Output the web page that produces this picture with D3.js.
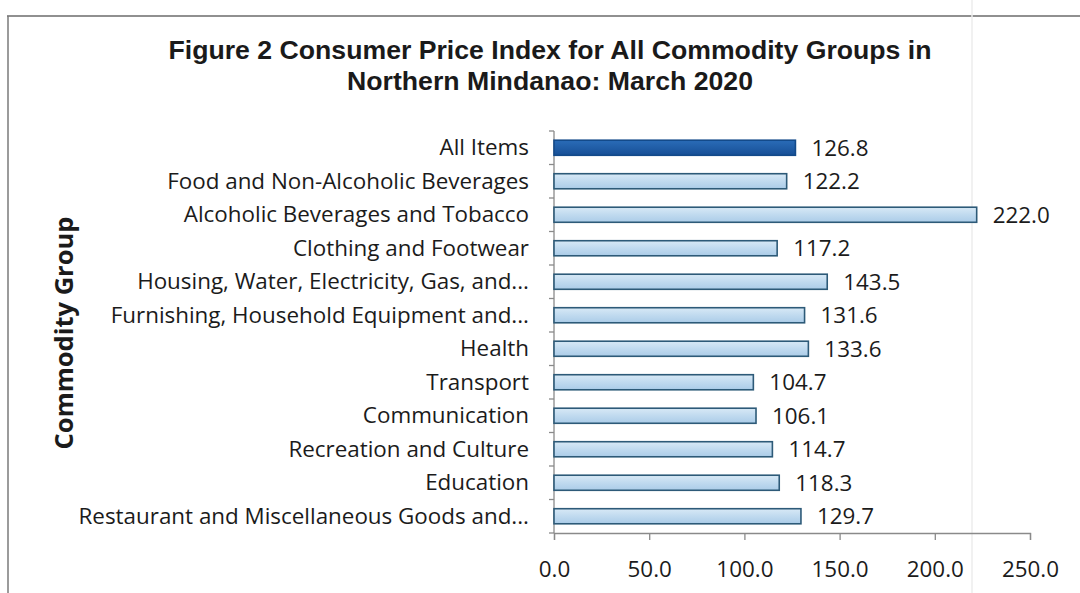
<!DOCTYPE html>
<html>
<head>
<meta charset="utf-8">
<script src="https://cdn.jsdelivr.net/npm/d3@7/dist/d3.min.js"></script>
<style>
  html, body { margin: 0; padding: 0; background: #fff; }
  svg { display: block; }
</style>
</head>
<body>
<script>
// Commodity groups, top to bottom
const categories = [
  "All Items",
  "Food and Non-Alcoholic Beverages",
  "Alcoholic Beverages and Tobacco",
  "Clothing and Footwear",
  "Housing, Water, Electricity, Gas, and...",
  "Furnishing, Household Equipment and...",
  "Health",
  "Transport",
  "Communication",
  "Recreation and Culture",
  "Education",
  "Restaurant and Miscellaneous Goods and..."
];
// CPI values, March 2020
const values = [126.8, 122.2, 222.0, 117.2, 143.5, 131.6, 133.6, 104.7, 106.1, 114.7, 118.3, 129.7];
const xTicks = [0, 50, 100, 150, 200, 250];
const titleLines = [
  "Figure 2 Consumer Price Index for All Commodity Groups in",
  "Northern Mindanao: March 2020"
];
const yTitle = "Commodity Group";

const W = 1080, H = 593;
const svg = d3.select("body").append("svg").attr("width", W).attr("height", H);
const labelFont = "'Open Sans', 'Noto Sans', sans-serif";
const labelSize = 22.4;
const ink = "#1b1b1b";

// gradients for bars
const defs = svg.append("defs");
const gLight = defs.append("linearGradient").attr("id", "gLight").attr("x1", 0).attr("y1", 0).attr("x2", 0).attr("y2", 1);
gLight.append("stop").attr("offset", "0%").attr("stop-color", "#d8e9f6");
gLight.append("stop").attr("offset", "50%").attr("stop-color", "#c0daef");
gLight.append("stop").attr("offset", "100%").attr("stop-color", "#abcce8");
const gDark = defs.append("linearGradient").attr("id", "gDark").attr("x1", 0).attr("y1", 0).attr("x2", 0).attr("y2", 1);
gDark.append("stop").attr("offset", "0%").attr("stop-color", "#2a6cb8");
gDark.append("stop").attr("offset", "100%").attr("stop-color", "#174f96");

// page frame lines
svg.append("line").attr("x1", 7).attr("x2", W).attr("y1", 16).attr("y2", 16)
  .attr("stroke", "#6b6b6b").attr("stroke-width", 1.5);
svg.append("line").attr("x1", 8).attr("x2", 8).attr("y1", 16).attr("y2", H)
  .attr("stroke", "#7a7a7a").attr("stroke-width", 1.5);
svg.append("line").attr("x1", 972).attr("x2", 972).attr("y1", 0).attr("y2", H)
  .attr("stroke", "#ececec").attr("stroke-width", 1.5);

// title (condensed bold sans)
const title = svg.append("g")
  .attr("font-family", "'Liberation Sans', Arial, sans-serif")
  .attr("font-weight", "bold").attr("font-size", 25).attr("fill", "#1a1a1a")
  .attr("text-anchor", "middle");
title.append("text").attr("x", 550).attr("y", 59)
  .attr("textLength", 763).attr("lengthAdjust", "spacingAndGlyphs")
  .text(titleLines[0]);
title.append("text").attr("x", 550).attr("y", 90)
  .attr("textLength", 406).attr("lengthAdjust", "spacingAndGlyphs")
  .text(titleLines[1]);

// plot area
const pLeft = 554, pRight = 1030, pTop = 131, pBottom = 533;
const x = d3.scaleLinear().domain([0, 250]).range([pLeft, pRight]);
const y = d3.scaleBand().domain(categories).range([pTop, pBottom]).paddingInner(0.55).paddingOuter(0.275);
const yb = d3.scaleBand().domain(categories).range([pTop, pBottom]);

const axisColor = "#8a8a8a";

// y axis with ticks at band boundaries
const yAxisG = svg.append("g");
yAxisG.append("line").attr("x1", pLeft).attr("x2", pLeft).attr("y1", pTop).attr("y2", pBottom)
  .attr("stroke", axisColor).attr("stroke-width", 1.3);
const boundaries = categories.map(c => yb(c)).concat([pBottom]);
yAxisG.selectAll("line.tk").data(boundaries).join("line").attr("class", "tk")
  .attr("x1", pLeft - 5).attr("x2", pLeft).attr("y1", d => d).attr("y2", d => d)
  .attr("stroke", axisColor).attr("stroke-width", 1.3);

// category labels
svg.append("g").selectAll("text").data(categories).join("text")
  .attr("x", 529).attr("y", d => yb(d) + yb.bandwidth() / 2)
  .attr("dy", "0.33em").attr("text-anchor", "end")
  .attr("font-family", labelFont)
  .attr("font-size", labelSize).attr("fill", ink)
  .text(d => d);

// x axis
const xAxis = d3.axisBottom(x).tickValues(xTicks).tickSize(7).tickFormat(d3.format(".1f"));
const xg = svg.append("g").attr("transform", `translate(0,${pBottom})`).call(xAxis);
xg.select(".domain").attr("stroke", axisColor).attr("stroke-width", 1.3);
xg.selectAll(".tick line").attr("stroke", axisColor).attr("stroke-width", 1.3);
xg.selectAll(".tick text")
  .attr("font-family", labelFont)
  .attr("font-size", labelSize).attr("fill", ink).attr("dy", "1.52em");

// bars
svg.append("g").selectAll("rect").data(categories).join("rect")
  .attr("x", x(0)).attr("y", d => y(d))
  .attr("width", (d, i) => x(values[i]) - x(0))
  .attr("height", y.bandwidth())
  .attr("fill", (d, i) => i === 0 ? "url(#gDark)" : "url(#gLight)")
  .attr("stroke", (d, i) => i === 0 ? "#134a8a" : "#2d5a78")
  .attr("stroke-width", 1.6);

// value labels
svg.append("g").selectAll("text").data(categories).join("text")
  .attr("x", (d, i) => x(values[i]) + 16)
  .attr("y", d => yb(d) + yb.bandwidth() / 2)
  .attr("dy", "0.35em")
  .attr("font-family", labelFont)
  .attr("font-size", labelSize).attr("fill", ink)
  .text((d, i) => values[i].toFixed(1));

// y axis title
svg.append("text")
  .attr("transform", "translate(73,333) rotate(-90)")
  .attr("text-anchor", "middle")
  .attr("font-family", labelFont)
  .attr("font-weight", "bold").attr("font-size", 25.5).attr("fill", ink)
  .text(yTitle);
</script>
</body>
</html>
